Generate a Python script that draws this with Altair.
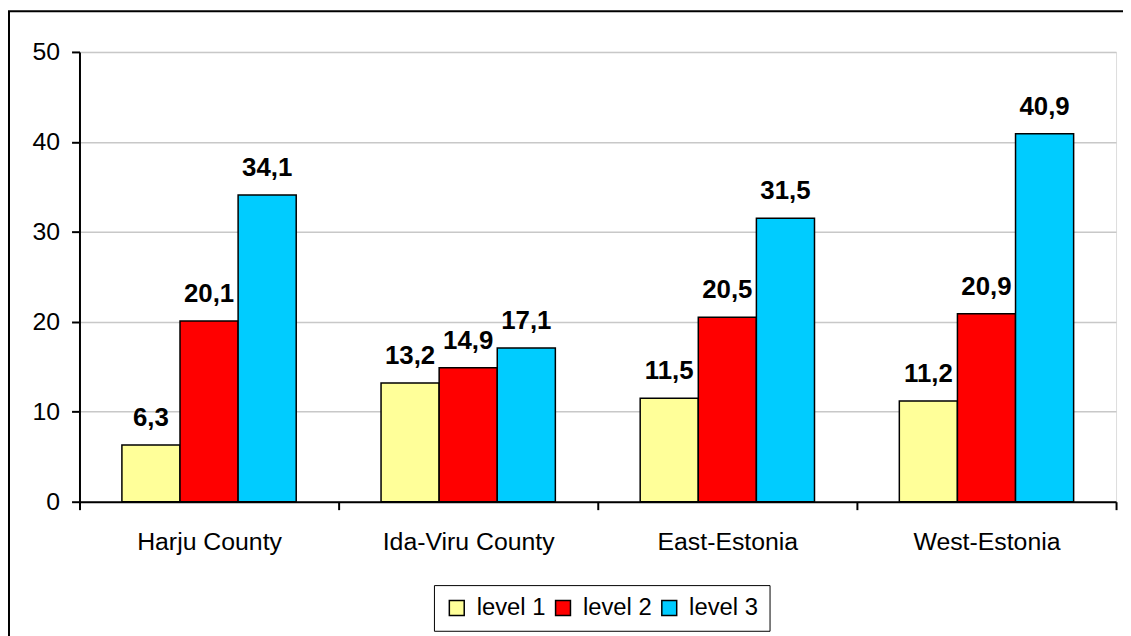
import altair as alt
import pandas as pd

regions = ["Harju County", "Ida-Viru County", "East-Estonia", "West-Estonia"]
levels = ["level 1", "level 2", "level 3"]
level1 = [6.3, 13.2, 11.5, 11.2]
level2 = [20.1, 14.9, 20.5, 20.9]
level3 = [34.1, 17.1, 31.5, 40.9]
colors = ["#FFFF99", "#FF0000", "#00CCFF"]
y_ticks = [0, 10, 20, 30, 40, 50]

rows = []
for i, r in enumerate(regions):
    for lv, vals in zip(levels, [level1, level2, level3]):
        rows.append({"region": r, "level": lv, "value": vals[i]})
df = pd.DataFrame(rows)

W, H = 1044, 453
FONT = "Liberation Sans"

base = alt.Chart(df).transform_calculate(
    label="replace(format(datum.value, '.1f'), '.', ',')"
).encode(
    x=alt.X(
        "region:N", sort=regions,
        scale=alt.Scale(paddingInner=0, paddingOuter=0),
        axis=alt.Axis(title=None, labelAngle=0, tickBand="extent", labelFont=FONT,
                      labelFontSize=25, labelColor="black", tickSize=8, labelPadding=20,
                      domainColor="black", tickColor="black", domainWidth=2, tickWidth=2,
                      grid=False),
    ),
    xOffset=alt.XOffset("level:N", sort=levels,
                        scale=alt.Scale(paddingOuter=0.73, paddingInner=0)),
)

bars = base.mark_bar(stroke="black", strokeWidth=1.5).encode(
    y=alt.Y("value:Q", scale=alt.Scale(domain=[0, 50], nice=False),
            axis=alt.Axis(title=None, values=y_ticks, labelFont=FONT, labelFontSize=25,
                          labelColor="black", tickSize=8, labelPadding=12,
                          domainColor="black", tickColor="black", domainWidth=2,
                          tickWidth=2, grid=True, gridColor="#c8c8c8", gridWidth=1.5)),
    color=alt.Color("level:N", sort=levels,
                    scale=alt.Scale(domain=levels, range=colors),
                    legend=alt.Legend(title=None, orient="none", legendX=357, legendY=537,
                                      direction="horizontal", strokeColor="black",
                                      fillColor="white", padding=11,
                                      symbolType="square", symbolSize=225,
                                      symbolStrokeColor="black", symbolStrokeWidth=1.5,
                                      labelFont=FONT, labelFontSize=24, labelColor="black",
                                      columnPadding=5, labelOffset=8)),
)

texts = base.mark_text(baseline="alphabetic", dy=-19, fontSize=26, fontWeight="bold",
                       font=FONT, color="black").encode(
    y=alt.Y("value:Q"),
    text="label:N",
)

frame = alt.Chart(pd.DataFrame({"a": [0]})).mark_rect(
    fillOpacity=0, stroke="black", strokeWidth=2
).encode(
    x=alt.value(-71), x2=alt.value(W + 30),
    y=alt.value(-41), y2=alt.value(H + 160),
)

chart = alt.layer(frame, bars, texts).properties(
    width=W, height=H,
    padding={"left": 72, "top": 42, "right": 7, "bottom": 133},
    autosize="none",
).configure_view(stroke="#808080", strokeWidth=2).configure(background="white")

chart.save("out.html", embed_options={"renderer": "svg", "actions": False})
